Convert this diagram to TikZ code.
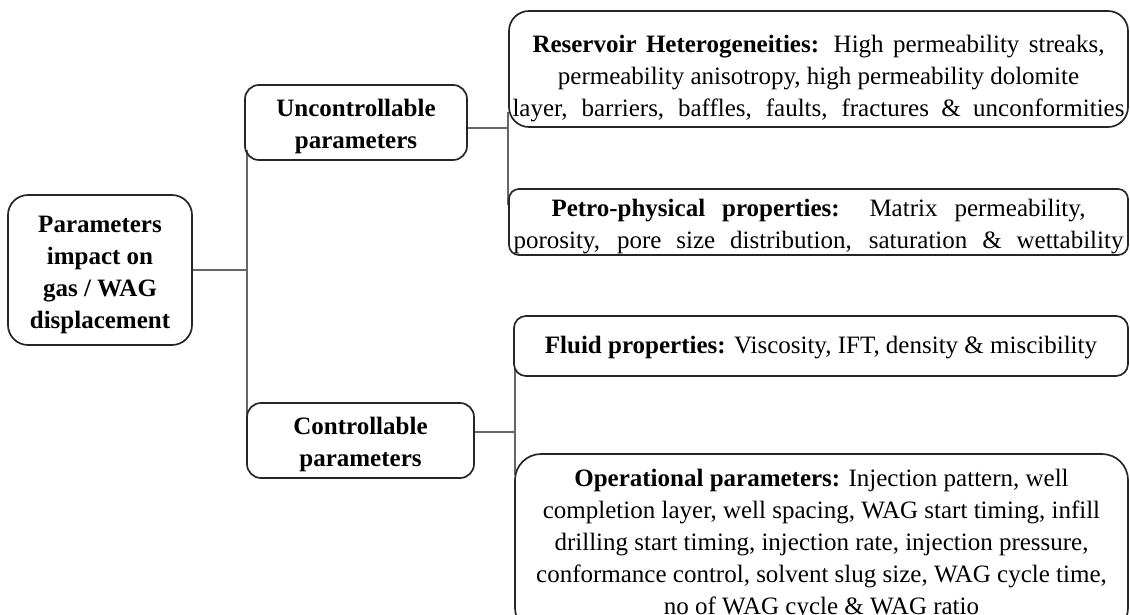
\documentclass[tikz,border=0pt]{standalone}
\usepackage{fontspec}
\setmainfont{Liberation Serif}
\usetikzlibrary{backgrounds}
\begin{document}
\begin{tikzpicture}[x=1pt,y=-1pt,
  box/.style={draw=black!85, line width=1.7pt, rounded corners=14pt, inner sep=0pt},
  txt/.style={align=center, inner sep=0pt, font=\fontsize{25}{32}\selectfont},
  link/.style={draw=black!60, line width=1.3pt}]
\useasboundingbox (0,0) rectangle (1130,614);

% junction points of the tree lines
\coordinate (a0) at (247,270);
\coordinate (a1) at (247,150);
\coordinate (a2) at (247,455);
\coordinate (b0) at (508,128);
\coordinate (b1) at (508,112);
\coordinate (b2) at (508,205);
\coordinate (c0) at (515,432);
\coordinate (c1) at (515,368);
\coordinate (c2) at (515,475);

% frames
\node[box, rounded corners=20pt, minimum width=184pt, minimum height=150pt] (root) at (100,270) {};
\node[box, minimum width=222pt, minimum height=75pt] (unc) at (356,122.5) {};
\node[box, minimum width=227pt, minimum height=75pt] (con) at (360.5,440.5) {};
\node[box, rounded corners=20pt, minimum width=619pt, minimum height=116pt] (res) at (818.5,69) {};
\node[box, rounded corners=10pt, minimum width=619pt, minimum height=66pt] (pet) at (818.5,222) {};
\node[box, rounded corners=12pt, minimum width=614pt, minimum height=60pt] (flu) at (821,346) {};
\node[box, rounded corners=26pt, minimum width=613pt, minimum height=180pt] (op) at (821.5,544) {};

% tree lines, behind the frames
\begin{scope}[on background layer]
\draw[link] (root.east) -- (a0);
\draw[link] (a1) -- (a2);
\draw[link] (b0 -| unc.east) -- (b0);
\draw[link] (b1) -- (b2);
\draw[link] (c0 -| con.east) -- (c0);
\draw[link] (c1) -- (c2);
\end{scope}

% texts
\node[txt] (roott) at (100,274.5)
  {\textbf{Parameters}\\\textbf{impact on}\\\textbf{gas / WAG}\\\textbf{displacement}};
\node[txt] (unct) at (356,126.5) {\textbf{Uncontrollable}\\\textbf{parameters}};
\node[txt] (cont) at (360.5,444) {\textbf{Controllable}\\\textbf{parameters}};
\node[txt] (rest) at (818.5,78.5)
  {\makebox[572pt][s]{\textbf{Reservoir Heterogeneities:} High permeability streaks,}\\
   permeability anisotropy, high permeability dolomite\\
   \makebox[612pt][s]{layer, barriers, baffles, faults, fractures \& unconformities}};
\node[txt] (pett) at (818.5,226.5)
  {\makebox[534pt][s]{\textbf{Petro-physical properties:} Matrix permeability,}\\
   \makebox[610pt][s]{porosity, pore size distribution, saturation \& wettability}};
\node[txt] (flut) at (821,348)
  {\textbf{Fluid properties:} Viscosity, IFT, density \& miscibility};
\node[txt] (opt) at (821.5,545)
  {\textbf{Operational parameters:} Injection pattern, well\\
   completion layer, well spacing, WAG start timing, infill\\
   drilling start timing, injection rate, injection pressure,\\
   conformance control, solvent slug size, WAG cycle time,\\
   no of WAG cycle \& WAG ratio};
\end{tikzpicture}
\end{document}
